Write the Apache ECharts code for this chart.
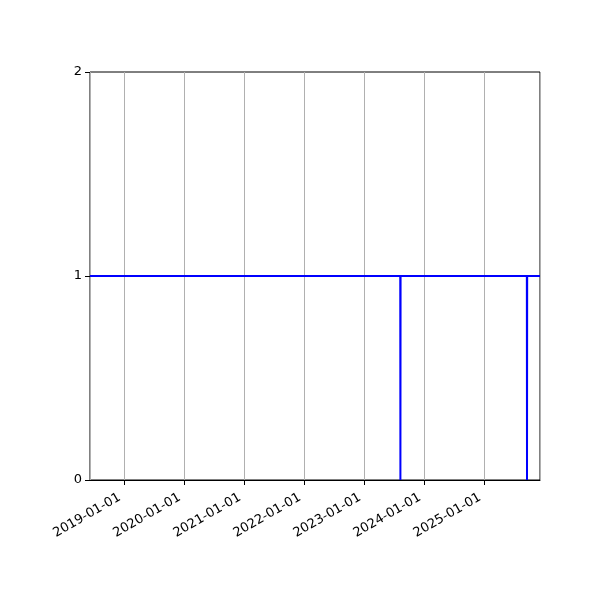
<!DOCTYPE html>
<html>
<head>
<meta charset="utf-8">
<script src="https://cdn.jsdelivr.net/npm/echarts@6/dist/echarts.min.js"></script>
<style>
html,body{margin:0;padding:0;background:#fff;}
#chart{width:600px;height:600px;}
</style>
</head>
<body>
<div id="chart"></div>
<script>
// time range shown on x axis
var xStart = '2018-06-08';
var xEnd = '2025-12-05';
// status series: dates and values (1 = up, 0 = down)
var dates = ['2018-06-08', '2023-08-08', '2023-08-09', '2023-08-10', '2025-09-16', '2025-09-17', '2025-09-18', '2025-12-05'];
var values = [1, 1, 0, 1, 1, 0, 1, 1];
var yTicks = [0, 1, 2];

var DAY = 24 * 3600 * 1000;
var seriesData = [];
for (var i = 0; i < dates.length; i++) {
	seriesData.push([dates[i], values[i]]);
}

var chart = echarts.init(document.getElementById('chart'));
var option = {
	animation: false,
	backgroundColor: '#fff',
	grid: {
		left: 90,
		right: 60,
		top: 72,
		bottom: 120,
		show: true,
		borderColor: '#000',
		borderWidth: 1,
		containLabel: false
	},
	xAxis: {
		type: 'time',
		min: xStart,
		max: xEnd,
		minInterval: 365 * DAY,
		maxInterval: 366 * DAY,
		axisLine: {show: true, lineStyle: {color: '#000', width: 1}},
		axisTick: {show: true, length: 5, lineStyle: {color: '#000'}},
		splitLine: {show: true, lineStyle: {color: '#b0b0b0', width: 1}},
		minorTick: {show: false},
		axisLabel: {
			rotate: 30,
			color: '#000',
			fontFamily: 'DejaVu Sans',
			fontSize: 13,
			margin: 14,
			padding: [0, 5, 0, 0],
			showMinLabel: false,
			showMaxLabel: false,
			formatter: function (v) {
				return echarts.time.format(v, '{yyyy}-{MM}-{dd}', false);
			}
		}
	},
	yAxis: {
		type: 'value',
		min: yTicks[0],
		max: yTicks[yTicks.length - 1],
		interval: 1,
		axisLine: {show: false},
		axisTick: {show: true, length: 5, lineStyle: {color: '#000'}},
		splitLine: {show: false},
		axisLabel: {
			color: '#000',
			fontFamily: 'DejaVu Sans',
			fontSize: 13,
			margin: 8
		}
	},
	series: [{
		type: 'line',
		data: seriesData,
		showSymbol: false,
		symbol: 'none',
		lineStyle: {color: '#0000ff', width: 2},
		itemStyle: {color: '#0000ff'}
	}]
};
chart.setOption(option);
</script>
</body>
</html>
